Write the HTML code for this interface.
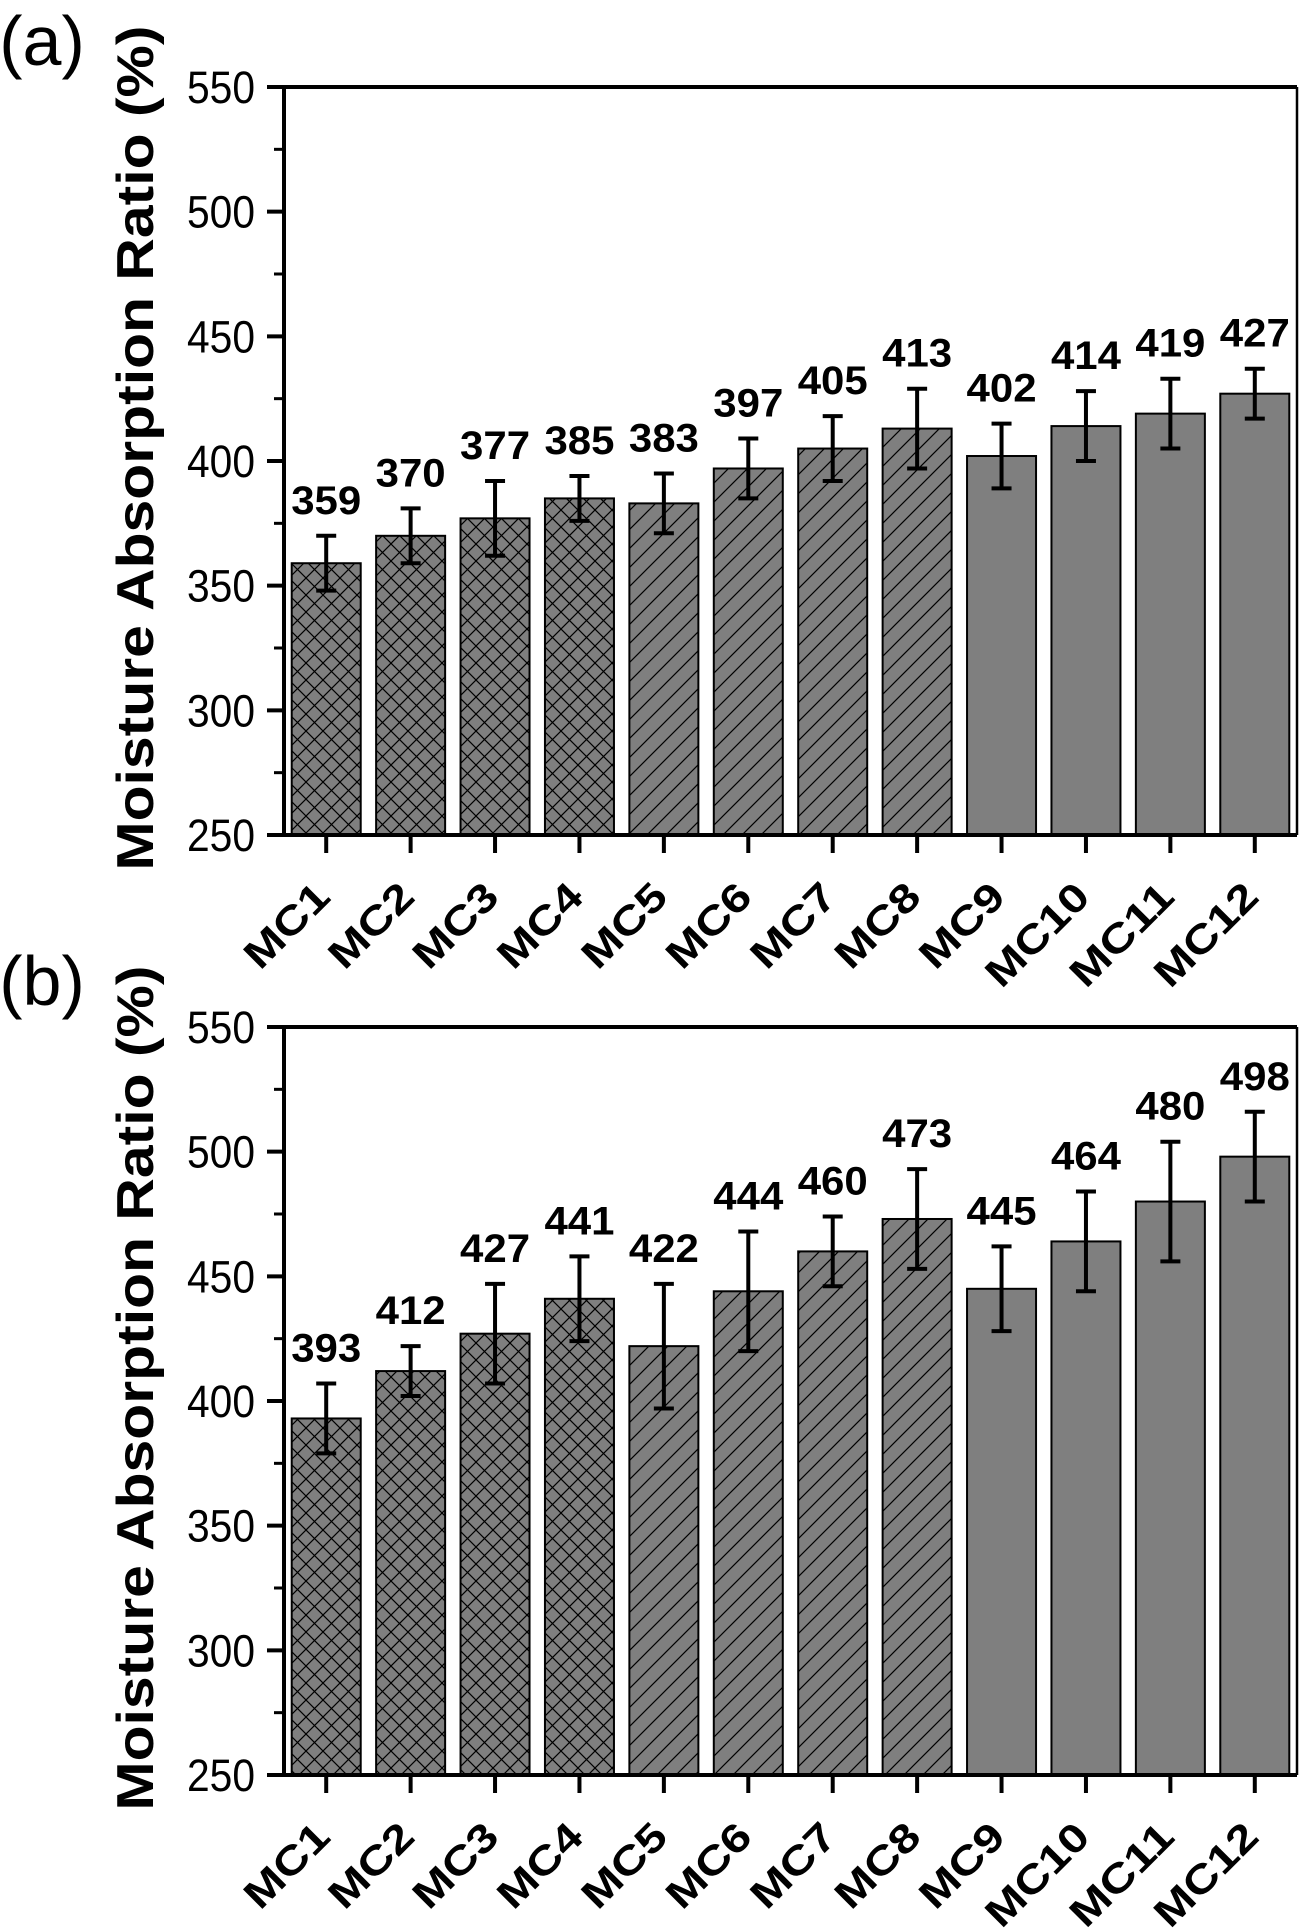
<!DOCTYPE html>
<html><head><meta charset="utf-8"><style>
body{margin:0;background:#fff}
svg{display:block}
text{font-family:"Liberation Sans",Arial,sans-serif}
</style></head><body>
<svg id="chart" width="1307" height="1929" viewBox="0 0 1307 1929" xmlns="http://www.w3.org/2000/svg">
<defs>
<pattern id="cross" patternUnits="userSpaceOnUse" width="17" height="17">
<rect width="17" height="17" fill="#7f7f7f"/>
<path d="M0,0 L17,17 M17,0 L0,17" stroke="#000" stroke-width="1.2"/>
</pattern>
<pattern id="diag" patternUnits="userSpaceOnUse" width="19" height="19">
<rect width="19" height="19" fill="#7f7f7f"/>
<path d="M-4,23 L23,-4 M-4,4 L4,-4 M15,23 L23,15" stroke="#000" stroke-width="1.2"/>
</pattern>
</defs>
</svg>
<script>
const categories = ["MC1","MC2","MC3","MC4","MC5","MC6","MC7","MC8","MC9","MC10","MC11","MC12"];
const valuesA = [359,370,377,385,383,397,405,413,402,414,419,427];
const errorsA = [11,11,15,9,12,12,13,16,13,14,14,10];
const valuesB = [393,412,427,441,422,444,460,473,445,464,480,498];
const errorsB = [14,10,20,17,25,24,14,20,17,20,24,18];
const fillTypes = ["cross","cross","cross","cross","diag","diag","diag","diag","solid","solid","solid","solid"];
const yTicks = [250,300,350,400,450,500,550];
const yMinor = [275,325,375,425,475,525];

const NS = "http://www.w3.org/2000/svg";
const svg = document.getElementById('chart');
function mk(tag, attrs, parent){
  const e = document.createElementNS(NS, tag);
  for (const k in attrs) e.setAttribute(k, attrs[k]);
  (parent||svg).appendChild(e);
  return e;
}

function panel(key, letter, top, values, errors){
  const left = 284, right = 1297, bottom = top + 748;
  const ymin = 250, ymax = 550;
  const y = v => bottom - (v - ymin) / (ymax - ymin) * (bottom - top);
  const band = (right - left) / categories.length;
  const x = i => left + band * (i + 0.5);
  const g = mk('g', {});
  
  

  const pl = mk('text', {x: 42, y: top - 22, 'font-size': 70, 'text-anchor': 'middle'}, g);
  
  
  pl.textContent = '(' + letter + ')';

  const yt = mk('text', {x: 0, y: 0, 'font-size': 52, 'font-weight': 'bold', 'text-anchor': 'middle',
    transform: 'translate(153,' + (top + 361) + ') rotate(-90)', textLength: 845, lengthAdjust: 'spacingAndGlyphs'}, g);
  
  
  yt.textContent = 'Moisture Absorption Ratio (%)';

  categories.forEach((c, i) => {
    const v = values[i], e = errors[i];
    const bw = 69;
    const fill = fillTypes[i] === 'solid' ? '#7f7f7f' : 'url(#' + fillTypes[i] + ')';
    const b = mk('rect', {x: x(i) - bw/2, y: y(v), width: bw, height: bottom - y(v), fill: fill, stroke: '#000', 'stroke-width': 2}, g);
    
    
    const eb = mk('path', {d: 'M' + (x(i)-10) + ',' + y(v+e) + 'H' + (x(i)+10) + 'M' + x(i) + ',' + y(v+e) + 'V' + y(v-e) + 'M' + (x(i)-10) + ',' + y(v-e) + 'H' + (x(i)+10),
      stroke: '#000', 'stroke-width': 4, fill: 'none'}, g);
    
    
    const vl = mk('text', {x: x(i), y: y(v+e) - 22, 'font-size': 40, 'font-weight': 'bold', 'text-anchor': 'middle', textLength: 70, lengthAdjust: 'spacingAndGlyphs'}, g);
    
    
    vl.textContent = v;
    const tk = mk('line', {x1: x(i), x2: x(i), y1: bottom, y2: bottom + 18, stroke: '#000', 'stroke-width': 4}, g);
    
    
    const tl = mk('text', {x: 0, y: 0, 'font-size': 40, 'font-weight': 'bold', 'text-anchor': 'end',
      transform: 'translate(' + (x(i) + 6) + ',' + (bottom + 64) + ') rotate(-45)', textLength: c.length > 3 ? 128 : 102, lengthAdjust: 'spacingAndGlyphs'}, g);
    
    
    tl.textContent = c;
  });

  yTicks.forEach(t => {
    const l = mk('line', {x1: left - 17, x2: left, y1: y(t), y2: y(t), stroke: '#000', 'stroke-width': 4}, g);
    
    
    const tx = mk('text', {x: 255, y: y(t) + 16, 'font-size': 45, 'text-anchor': 'end', textLength: 68, lengthAdjust: 'spacingAndGlyphs'}, g);
    
    
    tx.textContent = t;
  });
  yMinor.forEach(t => {
    const l = mk('line', {x1: left - 10, x2: left, y1: y(t), y2: y(t), stroke: '#000', 'stroke-width': 3}, g);
    
    
  });

  const ax = mk('path', {d: 'M' + left + ',' + top + 'V' + bottom + 'H' + right, stroke: '#000', 'stroke-width': 4, fill: 'none'}, g);
  
  
  const tp = mk('line', {x1: left - 2, x2: right, y1: top, y2: top, stroke: '#000', 'stroke-width': 4}, g);
  
  
  const rt = mk('line', {x1: right, x2: right, y1: top, y2: bottom, stroke: '#000', 'stroke-width': 2.5}, g);
  
  
}

panel('a', 'a', 87, valuesA, errorsA);
panel('b', 'b', 1027, valuesB, errorsB);
</script>
</body></html>
